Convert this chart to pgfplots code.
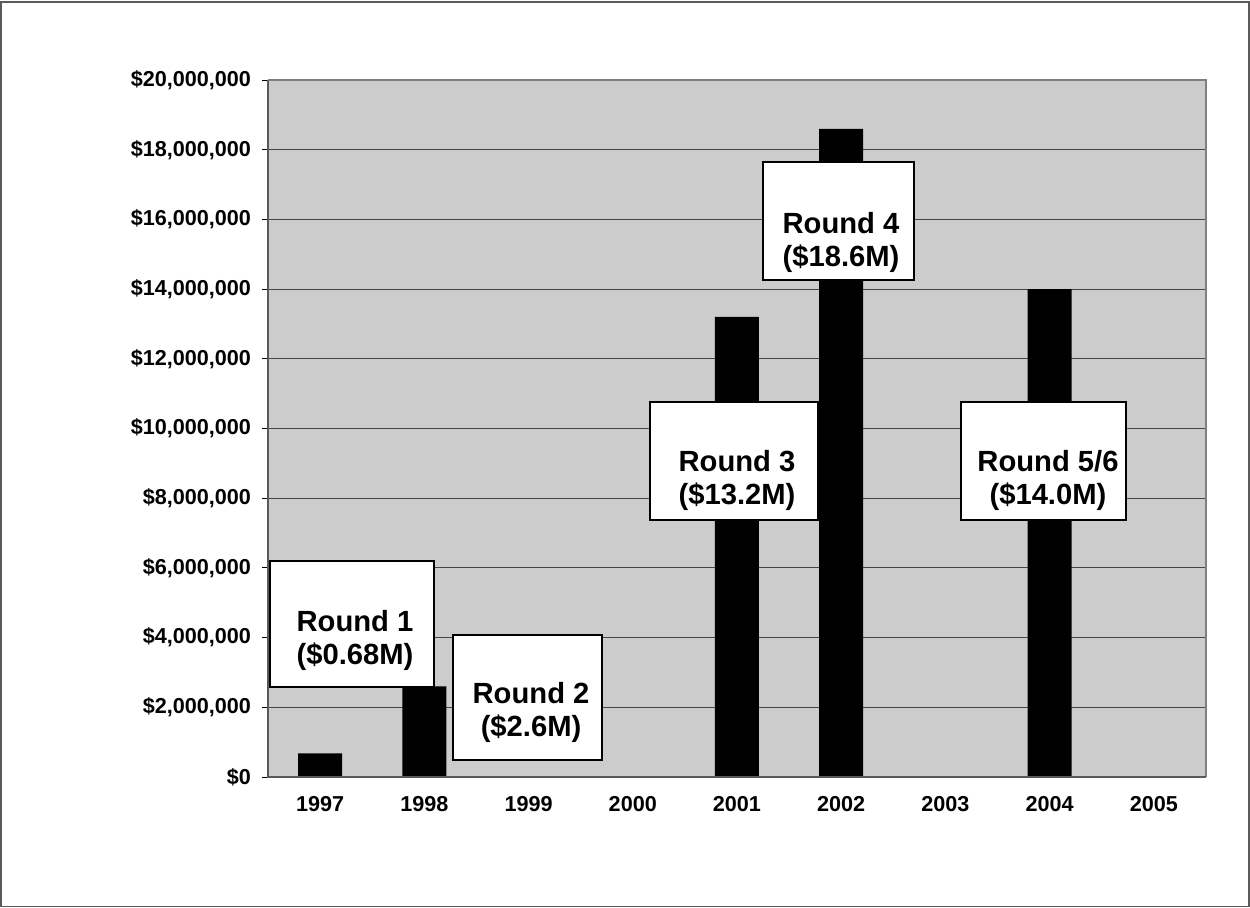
\documentclass[border=0pt]{standalone}
\usepackage{pgfplots}
\pgfplotsset{compat=1.18}
\usepackage{fontspec}
\setmainfont{Liberation Sans}
\definecolor{plotgray}{RGB}{204,204,204}
\definecolor{gridc}{RGB}{70,70,70}
\definecolor{bordergray}{RGB}{128,128,128}
\definecolor{framegray}{RGB}{90,90,90}
\begin{document}
\begin{tikzpicture}
\useasboundingbox (0,0) rectangle (625pt,453.5pt);
\draw[framegray, line width=0.8pt] (0.6pt,0.3pt) rectangle (624.4pt,452.5pt);
\begin{axis}[
  at={(134pt,65pt)}, anchor=south west,
  scale only axis, width=469pt, height=348.5pt,
  xmin=-0.5, xmax=8.5, ymin=0, ymax=20000000,
  axis background/.style={fill=plotgray},
  axis line style={draw=none},
  ybar, bar width=22pt, bar shift=0pt,
  xtick pos=bottom, ytick pos=left,
  xtick={0,...,8},
  xticklabels={1997,1998,1999,2000,2001,2002,2003,2004,2005},
  x tick style={draw=none},
  extra x ticks={-0.5,0.5,1.5,2.5,3.5,4.5,5.5,6.5,7.5,8.5},
  extra x tick labels={},
  extra x tick style={major tick length=3pt, tick style={black, line width=0.5pt, draw=black}},
  ytick={0,2000000,4000000,6000000,8000000,10000000,12000000,14000000,16000000,18000000,20000000},
  yticklabels={\$0,{\$2,000,000},{\$4,000,000},{\$6,000,000},{\$8,000,000},{\$10,000,000},{\$12,000,000},{\$14,000,000},{\$16,000,000},{\$18,000,000},{\$20,000,000}},
  scaled y ticks=false,
  tick align=outside,
  major tick length=3pt,
  y tick style={black, line width=0.5pt},
  ymajorgrids,
  major grid style={gridc, line width=0.5pt},
  ticklabel style={font=\fontsize{10.8}{12}\selectfont\bfseries},
  yticklabel style={xshift=-2pt},
  xticklabel style={yshift=-3pt},
  clip=false,
]
\addplot[fill=black, draw=none] table {
x y
0 680000
1 2600000
4 13200000
5 18600000
7 14000000
};
\draw[bordergray, line width=1pt] (rel axis cs:0,1) -- (rel axis cs:1,1) -- (rel axis cs:1,0);
\draw[framegray, line width=1pt] (rel axis cs:0,1) -- (rel axis cs:0,0) -- (rel axis cs:1,0);
\tikzset{rbox/.style={draw=black, line width=1pt, fill=white},
         rtxt/.style={align=center, inner sep=0pt, font=\fontsize{14.6}{16.5}\selectfont\bfseries}}
\draw[rbox] (axis cs:-0.478,6198000) rectangle (axis cs:1.093,2582000);
\node[rtxt] at (axis cs:0.335,3931000) {Round 1\\(\$0.68M)};
\draw[rbox] (axis cs:1.275,4075000) rectangle (axis cs:2.705,488000);
\node[rtxt] at (axis cs:2.024,1865000) {Round 2\\(\$2.6M)};
\draw[rbox] (axis cs:3.165,10760000) rectangle (axis cs:4.777,7374000);
\node[rtxt] at (axis cs:4.000,8522000) {Round 3\\(\$13.2M)};
\draw[rbox] (axis cs:4.250,17647000) rectangle (axis cs:5.698,14261000);
\node[rtxt] at (axis cs:4.998,15351000) {Round 4\\(\$18.6M)};
\draw[rbox] (axis cs:6.149,10760000) rectangle (axis cs:7.733,7374000);
\node[rtxt] at (axis cs:6.984,8522000) {Round 5/6\\(\$14.0M)};
\end{axis}
\end{tikzpicture}
\end{document}
